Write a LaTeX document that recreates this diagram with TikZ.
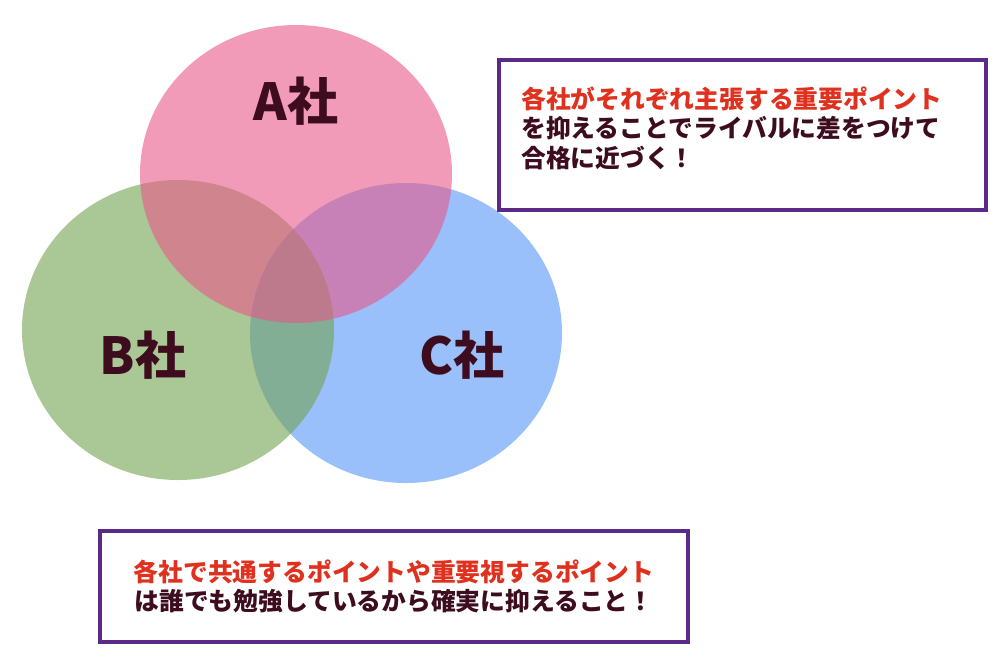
\documentclass[tikz,border=0pt]{standalone}
\usepackage{fontspec}
\setmainfont{Noto Sans CJK JP}[BoldFont={* Black}]
\definecolor{ca}{RGB}{233,88,137}
\definecolor{cb}{RGB}{113,163,80}
\definecolor{cc}{RGB}{85,150,247}
\definecolor{dk}{RGB}{61,12,30}
\definecolor{rd}{RGB}{224,48,30}
\definecolor{pu}{RGB}{91,42,134}
\begin{document}
\begin{tikzpicture}[x=0.02cm,y=-0.02cm,
  circ/.style={fill opacity=0.6},
  big/.style={font=\fontsize{29}{33}\selectfont\bfseries,text=dk},
  box/.style={draw=pu,line width=2.2pt},
  txt/.style={font=\fontsize{14.1}{17}\selectfont\bfseries,text=dk,inner sep=0}]
\useasboundingbox (0,0) rectangle (1000,667);
\fill[circ,cc] (406,333) ellipse [x radius=156,y radius=150];
\fill[circ,cb] (178,330) ellipse [x radius=156,y radius=150];
\fill[circ,ca] (296,174) ellipse [x radius=156,y radius=149];
\node[big] (la) at (296,101) {A社};
\node[big] (lb) at (143,355) {B社};
\node[big] (lc) at (462,355) {C社};
\draw[box] (499,60) rectangle (986,210);
\node[txt,anchor=west] (t1) at (521,99) {\textcolor{rd}{各社がそれぞれ主張する重要ポイント}};
\node[txt,anchor=west] (t2) at (521,128) {を抑えることでライバルに差をつけて};
\node[txt,anchor=west] (t3) at (521,158) {合格に近づく！};
\draw[box] (100,531) rectangle (688,642);
\node[txt] (u1) at (394,572) {\textcolor{rd}{各社で共通するポイントや重要視するポイント}};
\node[txt] (u2) at (394,601) {は誰でも勉強しているから確実に抑えること！};
\end{tikzpicture}
\end{document}
